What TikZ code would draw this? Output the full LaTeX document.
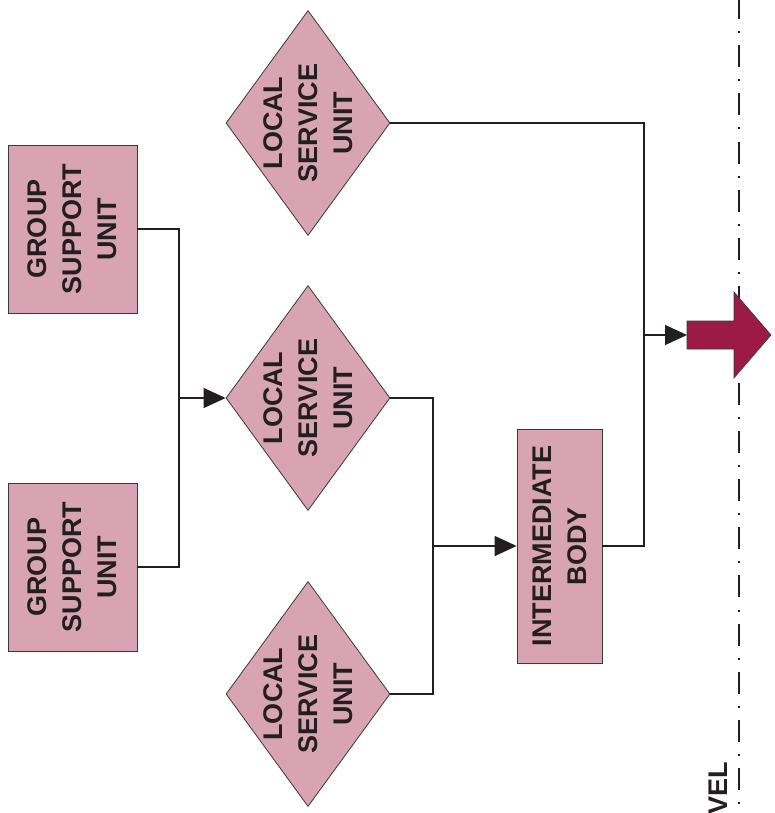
\documentclass[tikz,border=0pt]{standalone}
\usepackage{fontspec}
\setmainfont{Liberation Sans}
\usetikzlibrary{shapes.geometric,arrows.meta}
\definecolor{boxpink}{HTML}{D8A4B4}
\definecolor{arrowred}{HTML}{9B1B46}
\definecolor{ink}{HTML}{231F20}
\definecolor{edge}{HTML}{3A3A3A}
\tikzset{
  unitbox/.style={draw=edge,line width=0.8pt,fill=boxpink,rectangle,inner sep=0pt},
  unitdiamond/.style={draw=edge,line width=0.8pt,fill=boxpink,diamond,inner sep=0pt,minimum width=164pt,minimum height=225pt},
  lbl/.style={rotate=90,align=center,inner sep=0pt,text=ink,font=\fontsize{27}{35}\selectfont\bfseries},
  wire/.style={draw=ink,line width=1.3pt},
  flow/.style={wire,-{Triangle[length=22pt,width=20pt]}},
}
\begin{document}
\begin{tikzpicture}[x=1pt,y=-1pt]
\useasboundingbox (0,0) rectangle (775,813);
% boundary line
\draw[ink,line width=2pt,dash pattern=on 22pt off 12.1pt on 2pt off 12.1pt] (739,-3) -- (739,816);
\node[lbl,anchor=south east] (lvl) at (728,762) {VEL};
% shapes
\node[unitbox,minimum width=129pt,minimum height=168pt] (gs1) at (72.5,229) {};
\node[lbl] (tgs1) at (gs1.center) {GROUP\\SUPPORT\\UNIT};
\node[unitbox,minimum width=129pt,minimum height=168pt] (gs2) at (72.5,567) {};
\node[lbl] (tgs2) at (gs2.center) {GROUP\\SUPPORT\\UNIT};
\node[unitdiamond] (ls1) at (308,123) {};
\node[lbl] (tls1) at (ls1.center) {LOCAL\\SERVICE\\UNIT};
\node[unitdiamond] (ls2) at (308,398) {};
\node[lbl] (tls2) at (ls2.center) {LOCAL\\SERVICE\\UNIT};
\node[unitdiamond] (ls3) at (308,694) {};
\node[lbl] (tls3) at (ls3.center) {LOCAL\\SERVICE\\UNIT};
\node[unitbox,minimum width=85pt,minimum height=234pt] (ib) at (559.5,546) {};
\node[lbl] (tib) at (ib.center) {INTERMEDIATE\\BODY};
% big arrow
\fill[arrowred,draw=edge,line width=0.6pt] (687,321) -- (734,321) -- (734,292) -- (771,335) -- (734,378) -- (734,349) -- (687,349) -- cycle;
\coordinate (big) at (687,335);
% junctions
\coordinate (j1) at (179,398);
\coordinate (j2) at (433,546);
\coordinate (j3) at (644,335);
% connectors
\draw[wire] (gs1.east) -| (j1);
\draw[wire] (gs2.east) -| (j1);
\draw[flow] (j1) -- (ls2.west);
\draw[wire] (ls2.east) -| (j2);
\draw[wire] (ls3.east) -| (j2);
\draw[flow] (j2) -- (ib.west);
\draw[wire] (ls1.east) -| (j3);
\draw[wire] (ib.east) -| (j3);
\draw[flow] (j3) -- (big);
\end{tikzpicture}
\end{document}
